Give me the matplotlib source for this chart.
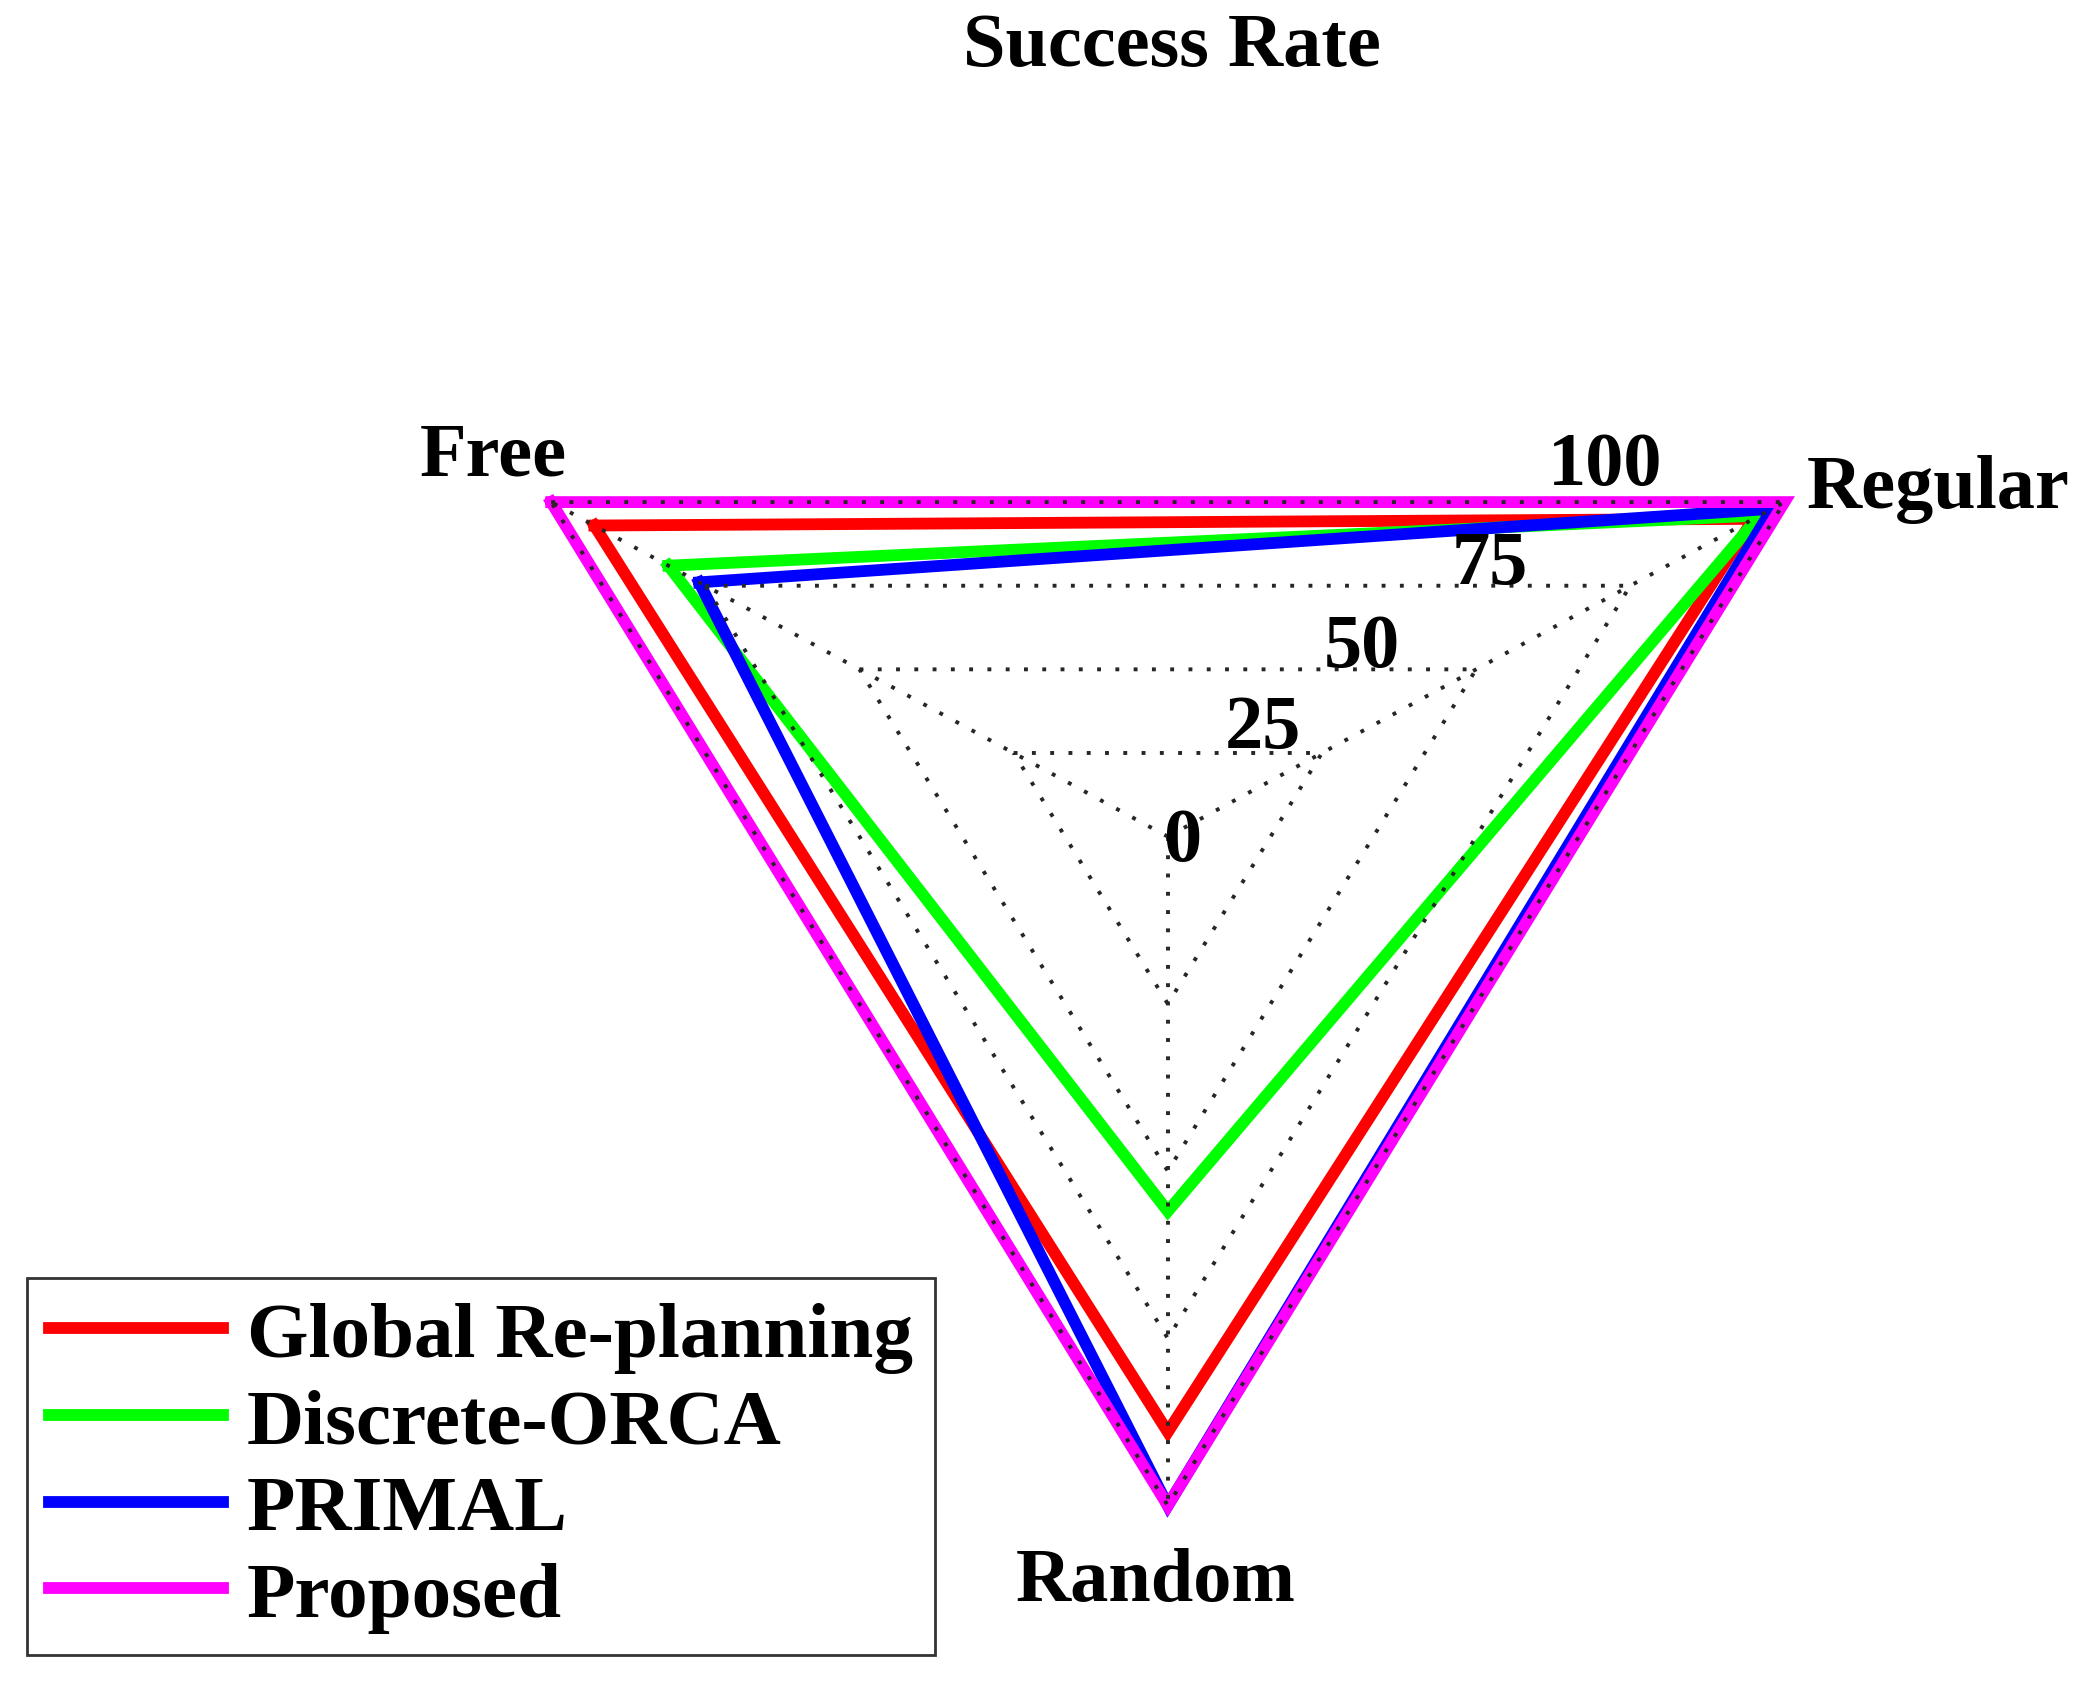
import numpy as np
import matplotlib
matplotlib.use("Agg")
import matplotlib.pyplot as plt

# axes of the radar (clockwise from upper-left)
categories = ['Free', 'Regular', 'Random']
angles_deg = [150, 30, 270]

methods = ['Global Re-planning', 'Discrete-ORCA', 'PRIMAL', 'Proposed']
colors = ['#ff0000', '#00ff00', '#0000ff', '#ff00ff']

# success rate (%) per method, order: Free, Regular, Random
global_replanning = [93, 95, 89]
discrete_orca = [81, 96, 56]
primal = [76, 98, 100]
proposed = [100, 100, 100]
series = [global_replanning, discrete_orca, primal, proposed]

levels = [0, 25, 50, 75, 100]

plt.rcParams['font.family'] = ['Liberation Serif', 'DejaVu Serif']
plt.rcParams['font.weight'] = 'bold'
FS = 55

fig = plt.figure(figsize=(20.89, 16.83), dpi=100)
ax = fig.add_axes([0, 0, 1, 1])
# centre of the radar sits at pixel (1168, 838); 1 unit = 712 px wide, 669 px tall
ax.set_xlim(-1167.8 / 712, (2089 - 1167.8) / 712)
ax.set_ylim(-(1683 - 837.6) / 669, 837.6 / 669)
ax.axis('off')

theta = np.deg2rad(angles_deg)


def to_xy(vals):
    r = np.asarray(vals, dtype=float) / 100.0
    x = r * np.cos(theta)
    y = r * np.sin(theta)
    return np.append(x, x[0]), np.append(y, y[0])


# data polygons
for name, vals, c in zip(methods, series, colors):
    x, y = to_xy(vals)
    ax.plot(x, y, color=c, lw=8.5, label=name, solid_joinstyle='miter', zorder=2)

# dotted grid drawn on top of the data, like the original
grid_kw = dict(color='#262626', lw=2.8, linestyle=(0, (1, 3.7)), zorder=3)
for lv in levels[1:]:
    x, y = to_xy([lv] * 3)
    ax.plot(x, y, **grid_kw)
for t in theta:
    ax.plot([0, np.cos(t)], [0, np.sin(t)], **grid_kw)

# radial tick labels
tick_pos = [(0.020, -0.007), (0.134, 0.161), (0.273, 0.282), (0.452, 0.406), (0.614, 0.555)]
for lv, (tx, ty) in zip(levels, tick_pos):
    ax.text(tx, ty, str(lv), fontsize=FS, ha='center', va='center', zorder=4)

# category labels
cat_pos = [(-0.947, 0.569), (1.082, 0.520), (-0.017, -1.114)]
for name, (tx, ty) in zip(categories, cat_pos):
    ax.text(tx, ty, name, fontsize=FS, ha='center', va='center')

fig.text(0.561, 0.972, 'Success Rate', fontsize=FS, ha='center', va='center')

leg = ax.legend(loc='lower left', bbox_to_anchor=(0.0127, 0.016),
                bbox_transform=fig.transFigure, fontsize=57, frameon=True,
                fancybox=False, edgecolor='black', handlelength=2.2,
                handletextpad=0.3, labelspacing=0.18, borderpad=0.28,
                borderaxespad=0)
leg.get_frame().set_linewidth(2)
for h in leg.get_lines():
    h.set_linewidth(8.5)

fig.savefig('out.png', dpi=100)
